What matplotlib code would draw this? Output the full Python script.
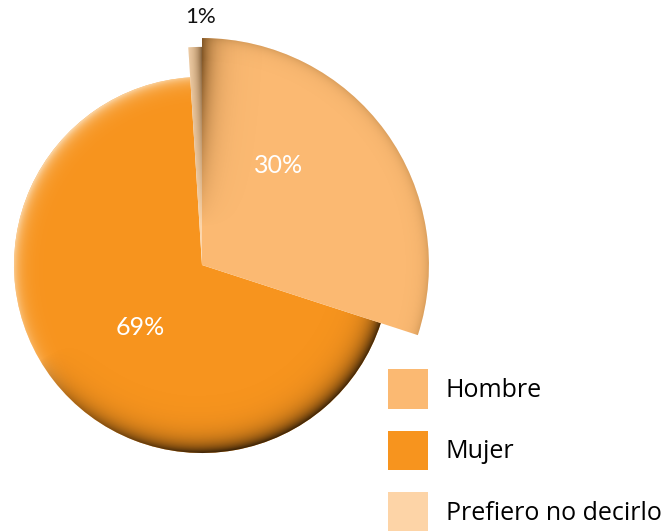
import numpy as np
import matplotlib
matplotlib.use('Agg')
from matplotlib import pyplot as plt
from matplotlib.patches import Patch

labels = ['Hombre', 'Mujer', 'Prefiero no decirlo']
values = [30, 69, 1]
colors = ['#FBB972', '#F7941E', '#FDD4A7']
pct_text = ['30%', '69%', '1%']

fig = plt.figure(figsize=(6.69, 5.31), dpi=100)
ax = fig.add_axes([0, 0, 1, 1])

wedges, _ = ax.pie(values, colors=colors, startangle=90, counterclock=False,
                   radius=1, center=(0, 0))
ax.set_xlim(-202 / 188, (669 - 202) / 188)
ax.set_ylim(-(531 - 265) / 188, 265 / 188)
ax.set_aspect('equal')
ax.axis('off')
# hombre and the small slice stick out further than mujer
wedges[0].set_radius(1.207)
wedges[2].set_radius(1.16)
wedges[1].set_zorder(1)
wedges[2].set_zorder(2)
wedges[0].set_zorder(3)

# bevel / shadow overlays, clipped to each wedge
n = 700
g = np.linspace(-1.3, 1.3, n)
X, Y = np.meshgrid(g, g[::-1])
rho = np.hypot(X, Y)
th = np.arctan2(Y, X)

def overlay(rgb, alpha, patch, z):
    img = np.zeros((n, n, 4))
    img[..., :3] = rgb
    img[..., 3] = np.clip(alpha, 0, 1)
    im = ax.imshow(img, extent=(-1.3, 1.3, -1.3, 1.3), zorder=z, interpolation='bilinear')
    im.set_clip_path(patch)

# mujer rim: light top-left, dark bottom-right
d = np.clip(1 - rho, 0, None)
c = np.cos(th - np.deg2rad(135))
rim = np.exp(-d / 0.035)
overlay((0.99, 0.90, 0.78), 0.85 * np.clip(c, 0, 1) ** 0.8 * rim, wedges[1], 1.1)
overlay((0.22, 0.13, 0.03), 0.97 * np.clip(-c + 0.25, 0, 1) ** 0.7 * np.exp(-d / 0.055), wedges[1], 1.2)

# small slice: light on the left, shadow from hombre on the right
yf = np.clip((Y - 0.2) / 0.9, 0, 1)
overlay((0.99, 0.93, 0.84), 0.7 * np.exp(-np.abs(X + 0.12) / 0.05), wedges[2], 2.1)
overlay((0.35, 0.22, 0.08), 0.8 * np.exp(np.clip(X, None, 0) / 0.035) * yf, wedges[2], 2.2)

# hombre: dark left edge fading down
overlay((0.40, 0.25, 0.08), 0.8 * np.exp(-np.clip(X, 0, None) / 0.06) * yf, wedges[0], 3.1)
overlay((0.45, 0.30, 0.10), 0.25 * np.exp(-np.clip(1.207 - rho, 0, None) / 0.03), wedges[0], 3.2)

# percent labels
ax.text(0.405, 0.53, pct_text[0], color='white', fontsize=18, family='Lato',
        ha='center', va='center', zorder=5)
ax.text(-0.33, -0.33, pct_text[1], color='white', fontsize=18, family='Lato',
        ha='center', va='center', zorder=5)
ax.text(-0.01, 1.32, pct_text[2], color='#111111', fontsize=16, family='Lato',
        ha='center', va='center', zorder=5)

handles = [Patch(facecolor=col, edgecolor='none') for col in colors]
fig.legend(handles, labels, loc='upper left', bbox_to_anchor=(388 / 669, 1 - 369 / 531),
           frameon=False, handlelength=1.6, handleheight=2.06,
           labelspacing=0.88, handletextpad=0.72, borderpad=0, borderaxespad=0,
           prop={'family': 'Open Sans', 'size': 18})

fig.savefig('out.png', dpi=100)
